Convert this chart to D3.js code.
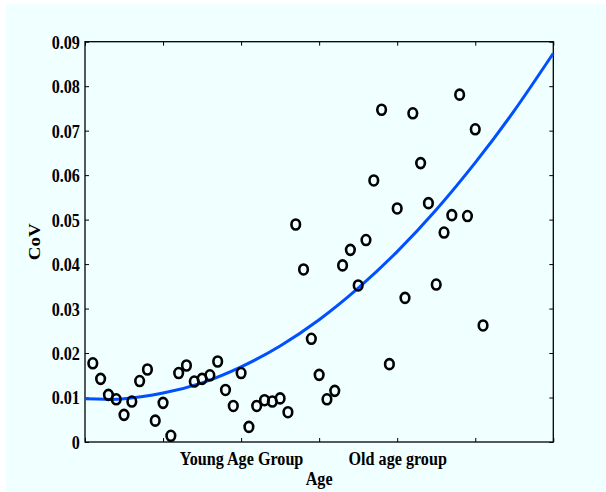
<!DOCTYPE html>
<html>
<head>
<meta charset="utf-8">
<script src="https://cdn.jsdelivr.net/npm/d3@7"></script>
<style>
  html, body { margin: 0; padding: 0; background: #ffffff; }
  svg { display: block; }
  text { font-family: "Liberation Serif", "Times New Roman", serif; font-weight: bold; fill: #000; }
</style>
</head>
<body>
<svg id="chart" width="606" height="492"></svg>
<script>
// ---- data ----
const ages = [0.1,0.2,0.3,0.4,0.5,0.6,0.7,0.8,0.9,1.0,
              1.1,1.2,1.3,1.4,1.5,1.6,1.7,1.8,1.9,2.0,
              2.1,2.2,2.3,2.4,2.5,2.6,2.7,2.8,2.9,3.0,
              3.1,3.2,3.3,3.4,3.5,3.6,3.7,3.8,3.9,4.0,
              4.1,4.2,4.3,4.4,4.5,4.6,4.7,4.8,4.9,5.0,5.1];
const cov = [0.0177,0.0142,0.0106,0.0096,0.0061,0.0091,0.0137,0.0163,0.0048,0.0088,
             0.0014,0.0155,0.0172,0.0136,0.0142,0.0150,0.0181,0.0117,0.0081,0.0155,
             0.0034,0.0081,0.0094,0.0091,0.0098,0.0067,0.0489,0.0388,0.0232,0.0151,
             0.0096,0.0115,0.0397,0.0432,0.0352,0.0454,0.0588,0.0747,0.0175,0.0525,
             0.0324,0.0739,0.0627,0.0537,0.0354,0.0471,0.0510,0.0781,0.0508,0.0703,0.0262];
const fitX = [0, 0.25, 0.5, 1.0, 1.5, 2.0, 2.5, 3.0, 3.5, 4.0, 4.5, 5.0, 5.5, 6.0];
const fitY = [0.0097, 0.0096, 0.0097, 0.0110, 0.0133, 0.0169, 0.0216, 0.0275, 0.0346, 0.0428, 0.0522, 0.0628, 0.0745, 0.0874];
const xTicks = [0, 1, 2, 3, 4, 5, 6];
const xTickLabels = ["", "", "Young Age Group", "", "Old age group", "", ""];
const yTicks = [0, 0.01, 0.02, 0.03, 0.04, 0.05, 0.06, 0.07, 0.08, 0.09];
const yTickLabels = ["0", "0.01", "0.02", "0.03", "0.04", "0.05", "0.06", "0.07", "0.08", "0.09"];
const xTitle = "Age";
const yTitle = "CoV";

// ---- layout ----
const W = 606, H = 492;
const L = 85, T = 41.7, R = 553.3, B = 442;
const FS = 19, SX = 0.85;

const svg = d3.select("#chart");
svg.append("rect").attr("x", 6).attr("y", 4).attr("width", W - 6).attr("height", H - 4).attr("fill", "#f0ffff");

const x = d3.scaleLinear().domain([0, 6]).range([L, R]);
const y = d3.scaleLinear().domain([0, 0.09]).range([B, T]);

function styleAxis(g) {
  g.select(".domain").remove();
  g.selectAll(".tick line").attr("stroke", "#000").attr("stroke-width", 1);
}

// bottom axis
const gx = svg.append("g").attr("transform", `translate(0,${B})`)
  .call(d3.axisBottom(x).tickValues(xTicks).tickSize(-4).tickSizeOuter(0)
    .tickFormat((d, i) => xTickLabels[i]));
styleAxis(gx);
gx.selectAll(".tick text").attr("y", 23).attr("dy", 0)
  .attr("font-size", FS).attr("font-family", null)
  .attr("transform", `scale(${SX},1)`);

// top axis
const gt = svg.append("g").attr("transform", `translate(0,${T})`)
  .call(d3.axisTop(x).tickValues(xTicks).tickSize(-4).tickSizeOuter(0).tickFormat(""));
styleAxis(gt);

// left axis
const gy = svg.append("g").attr("transform", `translate(${L},0)`)
  .call(d3.axisLeft(y).tickValues(yTicks).tickSize(-4).tickSizeOuter(0)
    .tickFormat((d, i) => yTickLabels[i]));
styleAxis(gy);
gy.selectAll(".tick text").attr("x", -6).attr("dy", "0.34em")
  .attr("font-size", FS).attr("font-family", null)
  .attr("transform", `scale(${SX},1)`);

// right axis
const gr = svg.append("g").attr("transform", `translate(${R},0)`)
  .call(d3.axisRight(y).tickValues(yTicks).tickSize(-4).tickSizeOuter(0).tickFormat(""));
styleAxis(gr);

// frame
svg.append("rect").attr("x", L).attr("y", T).attr("width", R - L).attr("height", B - T)
  .attr("fill", "none").attr("stroke", "#000").attr("stroke-width", 1.3);

// fitted curve
const fit = fitX.map((d, i) => [d, fitY[i]]);
svg.append("path").datum(fit)
  .attr("fill", "none").attr("stroke", "#0050ff").attr("stroke-width", 3)
  .attr("d", d3.line().x(d => x(d[0])).y(d => y(d[1])).curve(d3.curveNatural));

// points
svg.append("g").selectAll("ellipse").data(ages).join("ellipse")
  .attr("cx", d => x(d)).attr("cy", (d, i) => y(cov[i]))
  .attr("rx", 4.3).attr("ry", 5)
  .attr("fill", "none").attr("stroke", "#000").attr("stroke-width", 2.6);

// titles
svg.append("text").attr("text-anchor", "middle").attr("font-size", FS)
  .attr("transform", `translate(${(L + R) / 2},485) scale(${SX},1)`).text(xTitle);
svg.append("text").attr("text-anchor", "middle").attr("font-size", FS)
  .attr("transform", `translate(40,${(T + B) / 2}) scale(${SX},1) rotate(-90)`).text(yTitle);
</script>
</body>
</html>
